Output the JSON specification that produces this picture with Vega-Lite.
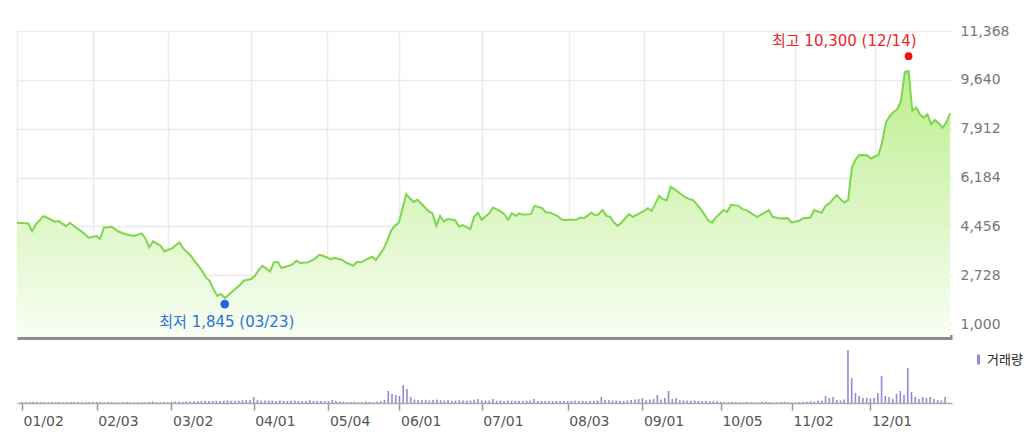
{
  "$schema": "https://vega.github.io/schema/vega-lite/v6.json",
  "padding": {"left": 13, "top": 24, "right": 0, "bottom": 0},
  "background": "white",
  "spacing": 4,
  "datasets": {
    "price": [
      {"t":0,"c":4583},{"t":3,"c":4559},{"t":4,"c":4286},{"t":5,"c":4523},{"t":7,"c":4817},{"t":8,"c":4760},{"t":10,"c":4619},{"t":11,"c":4640},{"t":13,"c":4463},{"t":14,"c":4583},{"t":16,"c":4371},{"t":17,"c":4286},{"t":19,"c":4052},{"t":21,"c":4109},{"t":22,"c":4017},{"t":23,"c":4406},{"t":25,"c":4442},{"t":27,"c":4265},{"t":29,"c":4170},{"t":31,"c":4115},{"t":33,"c":4205},{"t":34,"c":4029},{"t":35,"c":3711},{"t":36,"c":3923},{"t":38,"c":3767},{"t":39,"c":3569},{"t":41,"c":3675},{"t":43,"c":3887},{"t":44,"c":3675},{"t":46,"c":3414},{"t":47,"c":3237},{"t":49,"c":2884},{"t":50,"c":2650},{"t":51,"c":2530},{"t":52,"c":2237},{"t":53,"c":2000},{"t":54,"c":2060},{"t":55,"c":1919},{"t":56,"c":2025},{"t":58,"c":2261},{"t":59,"c":2378},{"t":60,"c":2530},{"t":62,"c":2590},{"t":63,"c":2707},{"t":64,"c":2919},{"t":65,"c":3060},{"t":67,"c":2862},{"t":68,"c":3180},{"t":69,"c":3202},{"t":70,"c":2979},{"t":72,"c":3060},{"t":73,"c":3120},{"t":74,"c":3237},{"t":75,"c":3156},{"t":77,"c":3180},{"t":79,"c":3322},{"t":80,"c":3449},{"t":81,"c":3414},{"t":83,"c":3297},{"t":84,"c":3332},{"t":86,"c":3272},{"t":87,"c":3180},{"t":89,"c":3060},{"t":90,"c":3202},{"t":91,"c":3180},{"t":92,"c":3250},{"t":94,"c":3379},{"t":95,"c":3262},{"t":97,"c":3650},{"t":98,"c":3944},{"t":99,"c":4297},{"t":100,"c":4474},{"t":101,"c":4569},{"t":102,"c":5064},{"t":103,"c":5594},{"t":104,"c":5450},{"t":105,"c":5320},{"t":106,"c":5393},{"t":108,"c":5124},{"t":109,"c":4983},{"t":110,"c":4912},{"t":111,"c":4474},{"t":112,"c":4827},{"t":113,"c":4629},{"t":114,"c":4711},{"t":116,"c":4675},{"t":117,"c":4453},{"t":118,"c":4499},{"t":120,"c":4357},{"t":121,"c":4792},{"t":122,"c":4935},{"t":123,"c":4686},{"t":125,"c":4923},{"t":126,"c":5124},{"t":128,"c":4983},{"t":129,"c":4887},{"t":130,"c":4686},{"t":131,"c":4923},{"t":132,"c":4827},{"t":133,"c":4912},{"t":134,"c":4863},{"t":136,"c":4887},{"t":137,"c":5181},{"t":139,"c":5099},{"t":140,"c":4947},{"t":141,"c":4947},{"t":143,"c":4827},{"t":144,"c":4711},{"t":145,"c":4675},{"t":146,"c":4686},{"t":148,"c":4686},{"t":149,"c":4770},{"t":150,"c":4746},{"t":151,"c":4827},{"t":152,"c":4947},{"t":153,"c":4840},{"t":154,"c":4887},{"t":155,"c":5040},{"t":156,"c":4827},{"t":157,"c":4792},{"t":158,"c":4600},{"t":159,"c":4474},{"t":160,"c":4594},{"t":162,"c":4887},{"t":163,"c":4792},{"t":164,"c":4863},{"t":166,"c":5000},{"t":167,"c":5099},{"t":168,"c":5004},{"t":170,"c":5534},{"t":171,"c":5418},{"t":172,"c":5382},{"t":173,"c":5852},{"t":174,"c":5771},{"t":177,"c":5478},{"t":178,"c":5418},{"t":179,"c":5382},{"t":181,"c":5064},{"t":182,"c":4863},{"t":183,"c":4651},{"t":184,"c":4594},{"t":185,"c":4770},{"t":187,"c":5029},{"t":188,"c":4969},{"t":189,"c":5216},{"t":191,"c":5181},{"t":192,"c":5064},{"t":193,"c":5040},{"t":195,"c":4863},{"t":196,"c":4792},{"t":199,"c":5029},{"t":200,"c":4792},{"t":202,"c":4735},{"t":204,"c":4746},{"t":205,"c":4594},{"t":207,"c":4651},{"t":208,"c":4735},{"t":210,"c":4770},{"t":211,"c":5029},{"t":212,"c":4983},{"t":213,"c":4934},{"t":214,"c":5181},{"t":215,"c":5265},{"t":216,"c":5418},{"t":217,"c":5559},{"t":218,"c":5418},{"t":219,"c":5300},{"t":220,"c":5393},{"t":221,"c":6538},{"t":222,"c":6831},{"t":223,"c":6983},{"t":225,"c":6972},{"t":226,"c":6855},{"t":227,"c":6926},{"t":228,"c":6972},{"t":229,"c":7421},{"t":230,"c":8128},{"t":231,"c":8361},{"t":232,"c":8503},{"t":233,"c":8598},{"t":234,"c":8892},{"t":235,"c":9916},{"t":236,"c":9952},{"t":237,"c":8538},{"t":238,"c":8658},{"t":239,"c":8421},{"t":240,"c":8305},{"t":241,"c":8421},{"t":242,"c":8068},{"t":243,"c":8220},{"t":244,"c":8103},{"t":245,"c":7951},{"t":246,"c":8128},{"t":247,"c":8457}
    ],
    "low": [{"t":55,"v":1845,"label":"최저 1,845 (03/23)"}],
    "high": [{"t":236,"v":10300,"label":"최고 10,300 (12/14)"}],
    "vol": [
      {"t":0,"v":210},{"t":1,"v":180},{"t":2,"v":150},{"t":3,"v":230},{"t":4,"v":260},{"t":5,"v":200},{"t":6,"v":170},{"t":7,"v":160},{"t":8,"v":210},{"t":9,"v":190},{"t":10,"v":170},{"t":11,"v":150},{"t":12,"v":180},{"t":13,"v":210},{"t":14,"v":160},{"t":15,"v":220},{"t":16,"v":170},{"t":17,"v":140},{"t":18,"v":190},{"t":19,"v":240},
      {"t":20,"v":200},{"t":21,"v":160},{"t":22,"v":120},{"t":23,"v":200},{"t":24,"v":230},{"t":25,"v":150},{"t":26,"v":120},{"t":27,"v":180},{"t":28,"v":220},{"t":29,"v":130},{"t":30,"v":110},{"t":31,"v":140},{"t":32,"v":120},{"t":33,"v":150},{"t":34,"v":180},{"t":35,"v":320},{"t":36,"v":170},{"t":37,"v":140},{"t":38,"v":130},{"t":39,"v":160},
      {"t":40,"v":260},{"t":41,"v":300},{"t":42,"v":280},{"t":43,"v":250},{"t":44,"v":320},{"t":45,"v":300},{"t":46,"v":340},{"t":47,"v":360},{"t":48,"v":330},{"t":49,"v":380},{"t":50,"v":400},{"t":51,"v":360},{"t":52,"v":420},{"t":53,"v":380},{"t":54,"v":450},{"t":55,"v":500},{"t":56,"v":440},{"t":57,"v":420},{"t":58,"v":480},{"t":59,"v":520},{"t":60,"v":560},{"t":61,"v":600},
      {"t":62,"v":1200},{"t":63,"v":650},{"t":64,"v":500},{"t":65,"v":520},{"t":66,"v":450},{"t":67,"v":480},{"t":68,"v":420},{"t":69,"v":500},{"t":70,"v":460},{"t":71,"v":400},{"t":72,"v":450},{"t":73,"v":520},{"t":74,"v":400},{"t":75,"v":380},{"t":76,"v":420},{"t":77,"v":560},{"t":78,"v":400},{"t":79,"v":380},{"t":80,"v":420},{"t":81,"v":360},{"t":82,"v":400},{"t":83,"v":600},{"t":84,"v":380},{"t":85,"v":300},{"t":86,"v":260},{"t":87,"v":150},{"t":88,"v":200},{"t":89,"v":250},{"t":90,"v":180},{"t":91,"v":160},{"t":92,"v":300},{"t":93,"v":220},{"t":94,"v":180},{"t":95,"v":240},{"t":96,"v":350},{"t":97,"v":600},
      {"t":98,"v":2400},{"t":99,"v":1800},{"t":100,"v":1600},{"t":101,"v":1400},{"t":102,"v":3600},{"t":103,"v":2800},{"t":104,"v":1200},{"t":105,"v":700},{"t":106,"v":600},{"t":107,"v":550},{"t":108,"v":650},{"t":109,"v":500},{"t":110,"v":600},{"t":111,"v":700},{"t":112,"v":550},{"t":113,"v":500},{"t":114,"v":600},{"t":115,"v":450},{"t":116,"v":500},{"t":117,"v":550},{"t":118,"v":480},{"t":119,"v":450},{"t":120,"v":500},{"t":121,"v":650},
      {"t":122,"v":800},{"t":123,"v":500},{"t":124,"v":480},{"t":125,"v":520},{"t":126,"v":800},{"t":127,"v":450},{"t":128,"v":500},{"t":129,"v":420},{"t":130,"v":480},{"t":131,"v":450},{"t":132,"v":400},{"t":133,"v":460},{"t":134,"v":420},{"t":135,"v":440},{"t":136,"v":480},{"t":137,"v":800},{"t":138,"v":420},{"t":139,"v":400},{"t":140,"v":380},{"t":141,"v":420},{"t":142,"v":360},{"t":143,"v":400},{"t":144,"v":380},{"t":145,"v":420},{"t":146,"v":400},{"t":147,"v":380},{"t":148,"v":440},{"t":149,"v":400},{"t":150,"v":420},{"t":151,"v":380},{"t":152,"v":440},{"t":153,"v":460},{"t":154,"v":500},{"t":155,"v":1200},{"t":156,"v":600},{"t":157,"v":550},{"t":158,"v":480},{"t":159,"v":500},{"t":160,"v":450},{"t":161,"v":420},{"t":162,"v":500},{"t":163,"v":600},{"t":164,"v":700},{"t":165,"v":800},
      {"t":166,"v":1000},{"t":167,"v":600},{"t":168,"v":700},{"t":169,"v":800},{"t":170,"v":1600},{"t":171,"v":700},{"t":172,"v":1000},{"t":173,"v":2400},{"t":174,"v":800},{"t":175,"v":1000},{"t":176,"v":550},{"t":177,"v":500},{"t":178,"v":480},{"t":179,"v":450},{"t":180,"v":500},{"t":181,"v":420},{"t":182,"v":400},{"t":183,"v":450},{"t":184,"v":380},{"t":185,"v":350},{"t":186,"v":360},
      {"t":187,"v":250},{"t":188,"v":200},{"t":189,"v":150},{"t":190,"v":240},{"t":191,"v":180},{"t":192,"v":120},{"t":193,"v":100},{"t":194,"v":220},{"t":195,"v":150},{"t":196,"v":120},{"t":197,"v":100},{"t":198,"v":230},{"t":199,"v":260},{"t":200,"v":150},{"t":201,"v":120},{"t":202,"v":100},{"t":203,"v":220},{"t":204,"v":250},{"t":205,"v":150},
      {"t":206,"v":120},{"t":207,"v":100},{"t":208,"v":150},{"t":209,"v":180},{"t":210,"v":250},{"t":211,"v":350},{"t":212,"v":300},{"t":213,"v":450},{"t":214,"v":500},
      {"t":215,"v":1400},{"t":216,"v":1000},{"t":217,"v":1200},{"t":218,"v":600},{"t":219,"v":500},{"t":220,"v":700},{"t":221,"v":10600},{"t":222,"v":5000},{"t":223,"v":2000},{"t":224,"v":1400},{"t":225,"v":1000},{"t":226,"v":1000},{"t":227,"v":900},{"t":228,"v":1000},{"t":229,"v":2000},{"t":230,"v":5400},{"t":231,"v":1400},{"t":232,"v":1200},{"t":233,"v":800},{"t":234,"v":1800},{"t":235,"v":2400},{"t":236,"v":1600},{"t":237,"v":7000},{"t":238,"v":2200},{"t":239,"v":1200},{"t":240,"v":800},{"t":241,"v":1200},{"t":242,"v":1000},{"t":243,"v":1200},{"t":244,"v":800},{"t":245,"v":600},{"t":246,"v":500},{"t":247,"v":1200}
    ]
  },
  "vconcat": [
    {
      "width": 935,
      "height": 306,
      "layer": [
        {
          "data": {"name": "price"},
          "mark": {
            "type": "area",
            "color": {
              "gradient": "linear",
              "x1": 0, "y1": 0, "x2": 0, "y2": 1,
              "stops": [
                {"offset": 0, "color": "#bdee8e"},
                {"offset": 1, "color": "#f8fef3"}
              ]
            }
          },
          "encoding": {
            "x": {
              "field": "t", "type": "quantitative",
              "scale": {"domain": [0, 247.5], "nice": false, "zero": false},
              "axis": {
                "values": [0, 20, 40, 62, 82, 101, 123, 146, 166, 187, 206, 227],
                "grid": true, "gridColor": "#ebebeb", "gridWidth": 1.5,
                "labels": false, "ticks": false,
                "domain": true, "domainColor": "#8c8c8c", "domainWidth": 5,
                "title": null
              }
            },
            "y": {
              "field": "c", "type": "quantitative",
              "scale": {"domain": [540, 11368], "nice": false, "zero": false},
              "axis": {
                "orient": "right",
                "values": [1000, 2728, 4456, 6184, 7912, 9640, 11368],
                "format": ",.0f",
                "grid": true, "gridColor": "#ebebeb", "gridWidth": 1.5,
                "domain": false, "ticks": false,
                "labelFont": "DejaVu Sans", "labelFontSize": 14, "labelColor": "#777777",
                "labelAlign": "left", "labelBaseline": "middle", "labelPadding": 8,
                "labelFlush": false, "labelOverlap": false,
                "title": null
              }
            },
            "y2": {"datum": 540}
          }
        },
        {
          "data": {"name": "price"},
          "mark": {"type": "line", "color": "#7dd64f", "strokeWidth": 2},
          "encoding": {
            "x": {"field": "t", "type": "quantitative"},
            "y": {"field": "c", "type": "quantitative"}
          }
        },
        {
          "data": {"name": "low"},
          "mark": {"type": "point", "filled": true, "opacity": 1, "color": "#1f66dd", "size": 75, "yOffset": 4},
          "encoding": {
            "x": {"field": "t", "type": "quantitative"},
            "y": {"field": "v", "type": "quantitative"}
          }
        },
        {
          "data": {"name": "low"},
          "mark": {"type": "text", "color": "#2f73d8", "font": "DejaVu Sans, Noto Sans CJK KR", "fontSize": 15, "align": "center", "baseline": "middle", "xOffset": 2, "yOffset": 22},
          "encoding": {
            "x": {"field": "t", "type": "quantitative"},
            "y": {"field": "v", "type": "quantitative"},
            "text": {"field": "label"}
          }
        },
        {
          "data": {"name": "high"},
          "mark": {"type": "point", "filled": true, "opacity": 1, "color": "#ee1111", "size": 60, "yOffset": -5},
          "encoding": {
            "x": {"field": "t", "type": "quantitative"},
            "y": {"field": "v", "type": "quantitative"}
          }
        },
        {
          "data": {"name": "high"},
          "mark": {"type": "text", "color": "#e8262d", "font": "DejaVu Sans, Noto Sans CJK KR", "fontSize": 15, "align": "right", "baseline": "middle", "xOffset": 8, "yOffset": -20},
          "encoding": {
            "x": {"field": "t", "type": "quantitative"},
            "y": {"field": "v", "type": "quantitative"},
            "text": {"field": "label"}
          }
        }
      ]
    },
    {
      "width": 935,
      "height": 62,
      "data": {"name": "vol"},
      "mark": {"type": "bar", "size": 1.6},
      "encoding": {
        "x": {
          "field": "t", "type": "quantitative",
          "scale": {"domain": [0, 247.5], "nice": false, "zero": false},
          "axis": {
            "values": [0, 20, 40, 62, 82, 101, 123, 146, 166, 187, 206, 227],
            "labelExpr": "['01/02','02/03','03/02','04/01','05/04','06/01','07/01','08/03','09/01','10/05','11/02','12/01'][indexof([0,20,40,62,82,101,123,146,166,187,206,227], datum.value)]",
            "grid": false,
            "ticks": true, "tickColor": "#999999", "tickSize": 7, "tickWidth": 1.5,
            "domain": true, "domainColor": "#aaaaaa", "domainWidth": 1.5,
            "labelFont": "DejaVu Sans", "labelFontSize": 14, "labelColor": "#555555",
            "labelAlign": "left", "labelBaseline": "top", "labelPadding": 4, "labelOffset": 1,
            "labelFlush": false, "labelOverlap": false, "labelBound": false,
            "title": null
          }
        },
        "y": {
          "field": "v", "type": "quantitative",
          "scale": {"domain": [0, 12400], "nice": false},
          "axis": null
        },
        "color": {
          "datum": "거래량", "type": "nominal",
          "scale": {"range": ["#9d86d6"]},
          "legend": {
            "orient": "none", "legendX": 955, "legendY": 322,
            "title": null,
            "symbolType": "M-0.3,-1H0.3V1H-0.3Z",
            "symbolSize": 100, "symbolStrokeWidth": 0, "symbolFillColor": "#9d86d6",
            "labelFont": "Noto Sans CJK KR", "labelFontSize": 13, "labelColor": "#222222",
            "labelOffset": 2, "padding": 0
          }
        }
      }
    }
  ],
  "config": {
    "view": {"stroke": null}
  }
}
